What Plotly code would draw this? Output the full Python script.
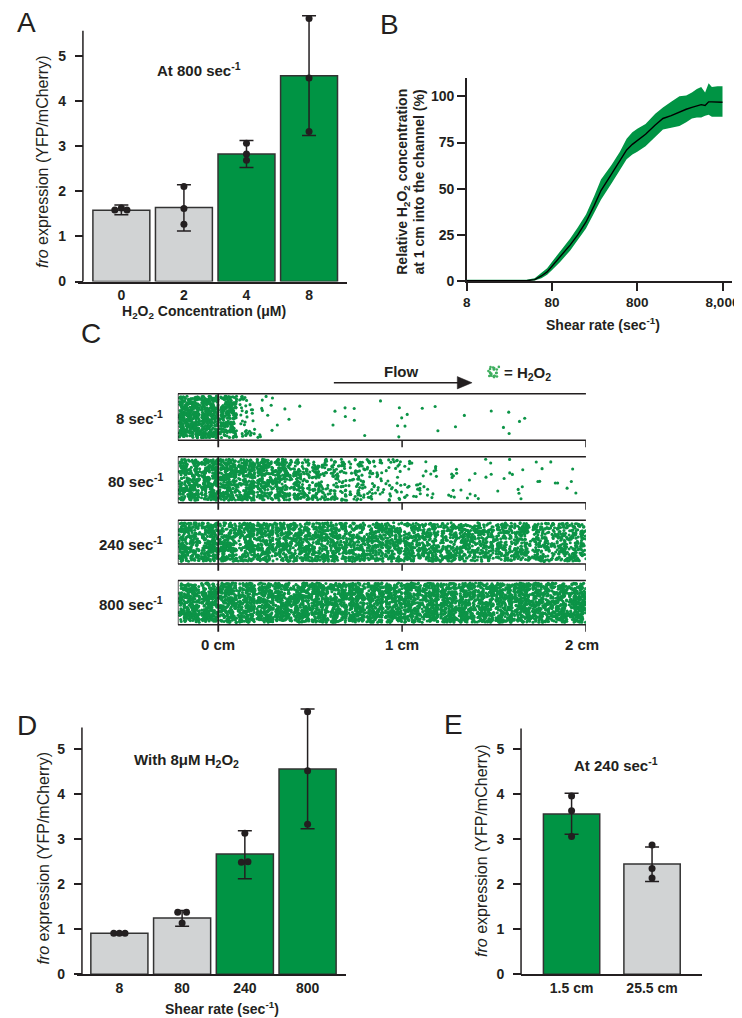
import numpy as np
import plotly.graph_objects as go

W, H = 742, 1018
FONT = "Liberation Sans, Arial, Helvetica, sans-serif"
INK = "#231f20"
GREEN = "#009444"
DOT = "#0c9447"
GRAY = "#d1d3d4"
EDGE = "#333333"

# ---------------- data ----------------
# Panel A: fro expression vs H2O2 concentration at 800 sec-1
a_labels = ["0", "2", "4", "8"]
a_mean = [1.58, 1.645, 2.83, 4.57]
a_upper = [1.70, 2.15, 3.13, 5.90]
a_lower = [1.48, 1.12, 2.53, 3.24]
a_points = [[1.59, 1.63, 1.59], [2.11, 1.62, 1.27], [3.07, 2.83, 2.69], [5.84, 4.52, 3.33]]
a_jitter = [[-0.105, 0.0, 0.09], [0, 0, 0], [0, 0, 0], [0, 0, 0]]
a_green = [False, False, True, True]

# Panel B: relative H2O2 concentration at 1 cm vs shear rate
b_shear = [8, 12, 20, 30, 40, 50, 60, 70, 80, 100, 130, 160, 200, 250, 300, 400, 500,
           600, 700, 800, 1000, 1300, 1600, 2000, 2500, 3000, 3500, 4000, 4500, 5000,
           5500, 6000, 7000, 8000]
b_mean = [0.3, 0.3, 0.3, 0.2, 0.2, 0.8, 2.8, 5.0, 8.0, 13.0, 19.5, 25.0, 32.0, 41.0, 49.0,
          58.0, 65.0, 71.0, 74.0, 76.0, 79.5, 84.5, 88.0, 89.5, 91.5, 93.0, 94.0, 95.0,
          95.5, 95.0, 97.0, 97.0, 96.8, 96.8]
b_upper = [0.7, 0.7, 0.7, 0.6, 0.8, 1.5, 4.5, 7.0, 10.5, 16.0, 23.0, 29.0, 36.0, 46.0,
           55.0, 63.0, 70.0, 77.0, 80.5, 82.5, 85.0, 90.5, 94.0, 97.0, 100.0, 100.5,
           102.0, 104.0, 105.0, 102.0, 107.0, 105.0, 105.5, 105.5]
b_lower = [0.0, 0.0, 0.0, 0.0, 0.0, 0.3, 1.5, 3.5, 6.0, 10.5, 16.5, 22.0, 28.5, 37.0,
           44.0, 53.0, 60.0, 66.0, 68.5, 70.0, 73.0, 78.0, 82.0, 83.0, 84.0, 86.0, 88.0,
           88.5, 88.5, 89.5, 90.0, 89.0, 89.0, 89.0]
b_tickvals = [8, 80, 800, 8000]
b_ticktext = ["8", "80", "800", "8,000"]

# Panel C: simulated H2O2 particle density along the channel (particles per bin)
c_rates = ["8", "80", "240", "800"]
c_bin_edges = [-0.22, -0.1, 0.0, 0.1, 0.2, 0.3, 0.4, 0.5, 0.6, 0.7, 0.8, 0.9, 1.0,
               1.1, 1.2, 1.3, 1.4, 1.5, 1.6, 1.7, 1.8, 1.9, 2.0]
c_counts_8 = [340, 300, 210, 38, 11, 3, 1, 0, 4, 3, 1, 4, 2, 3, 1, 1, 1, 3, 2, 0, 0, 0]
c_counts_80 = [250, 225, 215, 205, 190, 170, 130, 98, 78, 60, 44, 30, 20, 14, 9, 6, 5, 5,
               5, 4, 4, 3]
c_counts_240 = [225, 200, 196, 192, 188, 184, 180, 175, 170, 166, 162, 158, 154, 150,
                146, 142, 138, 136, 134, 132, 130, 128]
c_counts_800 = [255, 220, 220, 220, 220, 220, 220, 220, 220, 220, 220, 220, 220, 220,
                220, 220, 220, 220, 220, 220, 220, 220]
c_ticks = [0, 1, 2]

# Panel D: fro expression vs shear rate with 8 uM H2O2
d_labels = ["8", "80", "240", "800"]
d_mean = [0.91, 1.25, 2.67, 4.56]
d_upper = [0.94, 1.42, 3.19, 5.89]
d_lower = [0.88, 1.07, 2.12, 3.23]
d_points = [[0.91, 0.91, 0.91], [1.38, 1.38, 1.14], [3.13, 2.49, 2.50], [5.83, 4.52, 3.33]]
d_jitter = [[-0.09, 0.0, 0.09], [-0.07, 0.07, 0.0], [0.0, -0.055, 0.05], [0, 0, 0]]
d_green = [False, False, True, True]

# Panel E: fro expression at two channel positions, 240 sec-1
e_labels = ["1.5 cm", "25.5 cm"]
e_mean = [3.56, 2.45]
e_upper = [4.02, 2.83]
e_lower = [3.11, 2.06]
e_points = [[3.96, 3.63, 3.06], [2.87, 2.35, 2.14]]
e_jitter = [[0, 0, 0], [0, 0, 0]]
e_green = [True, False]


# ---------------- helpers ----------------
def px(x):
    return x / W


def py(y):
    return 1 - y / H


def f(size, bold=False, color=INK):
    d = dict(family=FONT, size=size, color=color)
    if bold:
        d["weight"] = "bold"
    return d


fig = go.Figure()
shapes = []
annotations = []


def ax_name(n):
    return ("x" if n == 1 else f"x{n}"), ("y" if n == 1 else f"y{n}")


def add_bar_panel(n, labels, mean, upper, lower, points, jitter, green, width):
    xr, yr = ax_name(n)
    xs = list(range(len(labels)))
    colors = [GREEN if g else GRAY for g in green]
    fig.add_trace(go.Bar(x=xs, y=mean, width=width,
                         marker=dict(color=colors, line=dict(color=EDGE, width=1.5)),
                         xaxis=xr, yaxis=yr, hoverinfo="skip"))
    fig.add_trace(go.Scatter(
        x=xs, y=mean, mode="markers", marker=dict(size=1, opacity=0),
        error_y=dict(type="data", symmetric=False,
                     array=[u - m for u, m in zip(upper, mean)],
                     arrayminus=[m - l for m, l in zip(mean, lower)],
                     color=INK, thickness=1.5, width=7),
        xaxis=xr, yaxis=yr, hoverinfo="skip"))
    pxs, pys = [], []
    for i, (pts, jit) in enumerate(zip(points, jitter)):
        for p, j in zip(pts, jit):
            pxs.append(i + j)
            pys.append(p)
    fig.add_trace(go.Scatter(x=pxs, y=pys, mode="markers",
                             marker=dict(size=7, color=INK),
                             xaxis=xr, yaxis=yr, hoverinfo="skip"))


add_bar_panel(1, a_labels, a_mean, a_upper, a_lower, a_points, a_jitter, a_green, 0.91)
add_bar_panel(4, d_labels, d_mean, d_upper, d_lower, d_points, d_jitter, d_green, 0.91)
add_bar_panel(5, e_labels, e_mean, e_upper, e_lower, e_points, e_jitter, e_green, 0.70)

# Panel B
fig.add_trace(go.Scatter(x=b_shear, y=b_lower, mode="lines", line=dict(width=0, color=GREEN),
                         xaxis="x2", yaxis="y2", hoverinfo="skip"))
fig.add_trace(go.Scatter(x=b_shear, y=b_upper, mode="lines", line=dict(width=0, color=GREEN),
                         fill="tonexty", fillcolor=GREEN, xaxis="x2", yaxis="y2",
                         hoverinfo="skip"))
fig.add_trace(go.Scatter(x=b_shear, y=b_mean, mode="lines", line=dict(width=1.4, color="black"),
                         xaxis="x2", yaxis="y2", hoverinfo="skip"))

# Panel C (x in cm, y in page pixels)
C_X0, C_X1 = 168.3, 582.6
C_XMIN, C_XMAX = c_bin_edges[0], c_bin_edges[-1]


def cx(xpix):
    return C_XMIN + (xpix - C_X0) * (C_XMAX - C_XMIN) / (C_X1 - C_X0)


ch_top = [388.7, 452.3, 516.3, 577.0]
ch_bot = [435.7, 498.7, 560.3, 621.7]
rng = np.random.default_rng(7)
dx, dy = [], []
for counts, top, bot in zip([c_counts_8, c_counts_80, c_counts_240, c_counts_800], ch_top, ch_bot):
    for i, n in enumerate(counts):
        lo, hi = c_bin_edges[i], c_bin_edges[i + 1]
        dx.extend(rng.uniform(lo + 0.008, hi, n))
        dy.extend(rng.uniform(top + 2.5, bot - 2.5, n))
fig.add_trace(go.Scatter(x=dx, y=dy, mode="markers",
                         marker=dict(size=3.1, color=DOT, line=dict(width=0)),
                         xaxis="x3", yaxis="y3", hoverinfo="skip"))
# legend icon cluster
ix = cx(489) + rng.uniform(-5.5, 5.5, 22) * (C_XMAX - C_XMIN) / (C_X1 - C_X0)
iy = 367 + rng.uniform(-5.5, 5.5, 22)
fig.add_trace(go.Scatter(x=ix, y=iy, mode="markers", marker=dict(size=2.6, color="#3fae5f"),
                         xaxis="x3", yaxis="y3", hoverinfo="skip"))

for top, bot in zip(ch_top, ch_bot):
    line = dict(color=INK, width=1.5)
    shapes.append(dict(type="line", xref="x3", yref="y3", x0=C_XMIN, x1=C_XMAX, y0=top, y1=top, line=line))
    shapes.append(dict(type="line", xref="x3", yref="y3", x0=C_XMIN, x1=C_XMAX, y0=bot, y1=bot, line=line))
    shapes.append(dict(type="line", xref="x3", yref="y3", x0=C_XMIN, x1=C_XMIN, y0=top, y1=bot, line=line))
    shapes.append(dict(type="line", xref="x3", yref="y3", x0=0, x1=0, y0=top, y1=bot + 7,
                       line=dict(color=INK, width=1.8)))
    for t in c_ticks[1:]:
        shapes.append(dict(type="line", xref="x3", yref="y3", x0=t, x1=t, y0=bot, y1=bot + 7, line=line))

for t in c_ticks:
    annotations.append(dict(x=t, y=py(642), xref="x3", yref="paper", text=f"{t} cm",
                            showarrow=False, font=f(15, True), xshift=-4 if t == 2 else 0))
for rate, top, bot in zip(c_rates, ch_top, ch_bot):
    annotations.append(dict(x=px(155), y=py((top + bot) / 2 + 1), xref="paper", yref="paper",
                            xanchor="right", text=f"{rate} sec<sup>-1</sup>", showarrow=False,
                            font=f(15, True)))

# Flow arrow
shapes.append(dict(type="line", xref="paper", yref="paper", x0=px(326.7), x1=px(456),
                   y0=py(377.7), y1=py(377.7), line=dict(color=INK, width=1.5)))
shapes.append(dict(type="path", xref="paper", yref="paper",
                   path=f"M {px(452)} {py(371.5)} L {px(467)} {py(377.7)} L {px(452)} {py(383.9)} Z",
                   fillcolor=INK, line=dict(color=INK, width=0.5)))
annotations.append(dict(x=px(395), y=py(366), xref="paper", yref="paper", text="Flow",
                        showarrow=False, font=f(15, True)))
annotations.append(dict(x=px(497), y=py(368), xref="paper", yref="paper", xanchor="left",
                        text="= H<sub>2</sub>O<sub>2</sub>", showarrow=False, font=f(15, True)))

# axis lines for bar panels (stop below the error bar tops)
shapes.append(dict(type="line", xref="paper", yref="y", x0=px(72), x1=px(72), y0=0, y1=5.57,
                   line=dict(color=INK, width=1.5)))
shapes.append(dict(type="line", xref="paper", yref="y4", x0=px(71), x1=px(71), y0=0, y1=5.48,
                   line=dict(color=INK, width=1.5)))
shapes.append(dict(type="line", xref="paper", yref="y5", x0=px(516.7), x1=px(516.7), y0=0, y1=5.46,
                   line=dict(color=INK, width=1.5)))


# Text annotations
def ann(x, y, text, size=15, bold=True, angle=0, xanchor="center", yanchor="middle"):
    annotations.append(dict(x=px(x), y=py(y), xref="paper", yref="paper", text=text,
                            showarrow=False, textangle=angle, xanchor=xanchor, yanchor=yanchor,
                            font=f(size, bold)))


ann(3, 15, "A", 28, False, xanchor="left")
ann(372, 17, "B", 28, False, xanchor="left")
ann(3, 723, "D", 28, False, xanchor="left")
ann(436, 722, "E", 28, False, xanchor="left")
ann(68, 328, "C", 28, False, xanchor="left")

ann(190, 62, "At 800 sec<sup>-1</sup>")
ann(177, 758, "With 8μM H<sub>2</sub>O<sub>2</sub>")
ann(613, 762, "At 240 sec<sup>-1</sup>")

ann(31.7, 155, "<i>fro</i> expression (YFP/mCherry)", 16, False, angle=-90)
ann(31.7, 857, "<i>fro</i> expression (YFP/mCherry)", 16, False, angle=-90)
ann(476.7, 849, "<i>fro</i> expression (YFP/mCherry)", 16, False, angle=-90)
ann(397, 175, "Relative H<sub>2</sub>O<sub>2</sub> concentration", 14, True, angle=-90)
ann(413, 175, "at 1 cm into the channel (%)", 14, True, angle=-90)

ann(195, 306, "H<sub>2</sub>O<sub>2</sub> Concentration (μM)", 14)
ann(600, 318, "Shear rate (sec<sup>-1</sup>)", 14)
ann(213, 1008, "Shear rate (sec<sup>-1</sup>)", 14)

# ---------------- layout ----------------
tickf = f(14, True)
common_y = dict(ticks="outside", ticklen=8, tickwidth=1.5, tickcolor=INK, showgrid=False,
                zeroline=False, tickfont=tickf, fixedrange=True)
common_x = dict(showgrid=False, zeroline=False, showline=True, linecolor=INK,
                linewidth=1.5, fixedrange=True)

fig.update_layout(
    width=W, height=H, margin=dict(l=0, r=0, t=0, b=0), autosize=False,
    paper_bgcolor="white", plot_bgcolor="rgba(0,0,0,0)", showlegend=False,
    font=dict(family=FONT, color=INK),
    # A
    xaxis=dict(domain=[px(67), px(340)], range=[-0.693, 3.606], anchor="y", ticks="",
               tickvals=list(range(len(a_labels))), ticktext=a_labels, tickfont=tickf,
               **common_x),
    yaxis=dict(domain=[py(275.7), py(275.7 - 6.0 * 45.4)], range=[0, 6.0], anchor="free",
               position=px(72), tickvals=[0, 1, 2, 3, 4, 5], showline=False,
               ticklabelstandoff=6, **common_y),
    # B
    xaxis2=dict(domain=[px(461.7), px(730.7)], type="log", range=[np.log10(8), 4.013],
                anchor="y2", tickvals=b_tickvals, ticktext=b_ticktext, ticks="outside",
                ticklen=8, tickwidth=1.5, tickcolor=INK, tickfont=f(13.5, True), **common_x),
    yaxis2=dict(domain=[py(275.3), py(275.3 - 110 * 1.863)], range=[0, 110], anchor="x2",
                tickvals=[0, 25, 50, 75, 100], showline=True, linecolor=INK, linewidth=1.5,
                **common_y),
    # C
    xaxis3=dict(domain=[px(C_X0), px(C_X1)], range=[C_XMIN, C_XMAX], visible=False,
                anchor="y3", fixedrange=True),
    yaxis3=dict(domain=[py(640), py(350)], range=[640, 350], visible=False, anchor="x3",
                fixedrange=True),
    # D
    xaxis4=dict(domain=[px(65.7), px(339)], range=[-0.68, 3.612], anchor="y4", ticks="",
                tickvals=list(range(len(d_labels))), ticktext=d_labels, tickfont=tickf,
                **common_x),
    yaxis4=dict(domain=[py(974), py(974 - 6.0 * 45.4)], range=[0, 6.0], anchor="free",
                position=px(71), tickvals=[0, 1, 2, 3, 4, 5], showline=False,
                ticklabelstandoff=6, **common_y),
    # E
    xaxis5=dict(domain=[px(516.7), px(700)], range=[-0.628, 1.616], anchor="y5", ticks="",
                tickvals=list(range(len(e_labels))), ticktext=e_labels, tickfont=tickf,
                **common_x),
    yaxis5=dict(domain=[py(974), py(974 - 6.0 * 45.4)], range=[0, 6.0], anchor="free",
                position=px(516.7), tickvals=[0, 1, 2, 3, 4, 5], showline=False,
                ticklabelstandoff=6, **common_y),
    shapes=shapes,
    annotations=annotations,
)

fig.write_html("out.html")
